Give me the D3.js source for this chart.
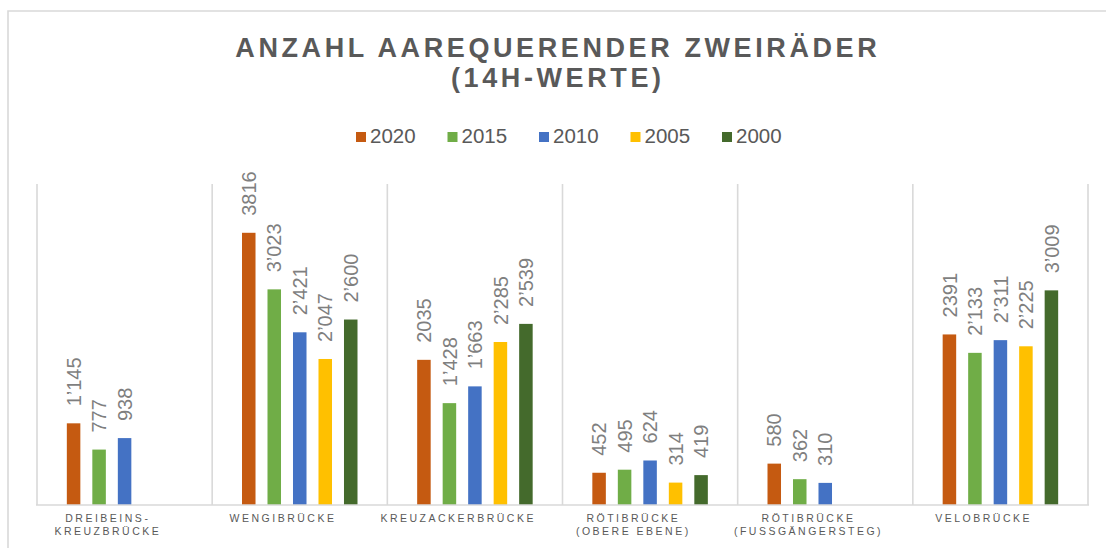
<!DOCTYPE html>
<html>
<head>
<meta charset="utf-8">
<script src="https://cdn.jsdelivr.net/npm/d3@7"></script>
<style>
  body { margin: 0; background: #fff; }
  svg { display: block; font-family: Arial, "Liberation Sans", sans-serif; }
</style>
</head>
<body>
<svg id="chart"></svg>
<script>
// bridges (label lines)
const categories = [
  ["DREIBEINS-", "KREUZBRÜCKE"],
  ["WENGIBRÜCKE"],
  ["KREUZACKERBRÜCKE"],
  ["RÖTIBRÜCKE", "(OBERE EBENE)"],
  ["RÖTIBRÜCKE", "(FUSSGÄNGERSTEG)"],
  ["VELOBRÜCKE"]
]
const seriesNames = ["2020", "2015", "2010", "2005", "2000"]
const seriesColors = ["#c55a11", "#70ad47", "#4472c4", "#ffc000", "#446a2c"]

const v2020 = [1145, 3816, 2035, 452, 580, 2391]
const v2015 = [777, 3023, 1428, 495, 362, 2133]
const v2010 = [938, 2421, 1663, 624, 310, 2311]
const v2005 = [null, 2047, 2285, 314, null, 2225]
const v2000 = [null, 2600, 2539, 419, null, 3009]
// 2020 labels are formatted inconsistently in the source
const labels2020 = ["1’145", "3816", "2035", "452", "580", "2391"]

const yMax = 4500

let width = 1106, height = 548
let svg = d3.select("#chart").attr("width", width).attr("height", height)

let plot = {left: 37, right: 1088, top: 184, bottom: 505}

let catKeys = categories.map((c, i) => i)
let x = d3.scaleBand().domain(catKeys).range([plot.left, plot.right]).padding(0)
let xs = d3.scaleBand().domain(seriesNames).range([0, x.bandwidth()])
    .paddingInner(0.47).paddingOuter(1.17)
let y = d3.scaleLinear().domain([0, yMax]).range([plot.bottom, plot.top])

let fmt = d3.formatLocale({decimal: ".", thousands: "’", grouping: [3], currency: ["", ""]}).format(",d")

let allValues = [v2020, v2015, v2010, v2005, v2000]
let bars = []
seriesNames.forEach((s, si) => {
    allValues[si].forEach((v, ci) => {
        if (v == null) return
        bars.push({series: s, si: si, cat: ci, value: v,
                   label: si == 0 ? labels2020[ci] : fmt(v)})
    })
})

// outer frame
svg.append("path")
    .attr("d", `M8,${height + 5} L8,11 L${width + 5},11`)
    .attr("fill", "none")
    .attr("stroke", "#d9d9d9")
    .attr("stroke-width", 1.6)

// title
let title = svg.append("text")
    .attr("text-anchor", "middle")
    .attr("font-size", 27)
    .attr("font-weight", "bold")
    .attr("letter-spacing", 3.6)
    .attr("fill", "#595959")
title.append("tspan").attr("x", 557.8).attr("y", 57).text("ANZAHL AAREQUERENDER ZWEIRÄDER")
title.append("tspan").attr("x", 557.8).attr("y", 87).text("(14H-WERTE)")

// legend
let legend = svg.append("g")
let li = legend.selectAll("g")
    .data(seriesNames)
    .join("g")
    .attr("transform", (d, i) => `translate(${356 + i * 91.5},132)`)
li.append("rect")
    .attr("width", 10).attr("height", 10)
    .attr("fill", (d, i) => seriesColors[i])
li.append("text")
    .attr("x", 14).attr("y", 10.7)
    .attr("font-size", 20.5)
    .attr("fill", "#595959")
    .text(d => d)

// vertical category gridlines
svg.append("g")
    .selectAll("line")
    .data(catKeys.map(c => x(c)).concat([plot.right]))
    .join("line")
    .attr("x1", d => d).attr("x2", d => d)
    .attr("y1", plot.top).attr("y2", plot.bottom)
    .attr("stroke", "#d9d9d9")
    .attr("stroke-width", 1.6)

// bars
svg.append("g")
    .selectAll("rect")
    .data(bars)
    .join("rect")
    .attr("x", d => x(d.cat) + xs(d.series))
    .attr("y", d => y(d.value))
    .attr("width", xs.bandwidth())
    .attr("height", d => y(0) - y(d.value))
    .attr("fill", d => seriesColors[d.si])

// baseline axis
svg.append("line")
    .attr("x1", plot.left - 1).attr("x2", plot.right + 1)
    .attr("y1", plot.bottom).attr("y2", plot.bottom)
    .attr("stroke", "#d9d9d9")
    .attr("stroke-width", 1.6)

// data labels
svg.append("g")
    .selectAll("text")
    .data(bars)
    .join("text")
    .attr("transform", d => {
        let cx = x(d.cat) + xs(d.series) + xs.bandwidth() / 2
        return `translate(${cx},${y(d.value) - 17}) rotate(-90)`
    })
    .attr("dy", "0.36em")
    .attr("font-size", 20)
    .attr("fill", "#7f7f7f")
    .text(d => d.label)

// category labels
let ls = 2.5
svg.append("g")
    .selectAll("text")
    .data(categories)
    .join("text")
    .attr("text-anchor", "middle")
    .attr("font-size", 10.5)
    .attr("letter-spacing", ls)
    .attr("fill", "#595959")
    .each(function(lines, i) {
        let cx = x(i) + x.bandwidth() / 2 - 18 + ls / 2
        d3.select(this).selectAll("tspan")
            .data(lines)
            .join("tspan")
            .attr("x", cx)
            .attr("y", (d, j) => 521.5 + j * 13)
            .text(d => d)
    })
</script>
</body>
</html>
